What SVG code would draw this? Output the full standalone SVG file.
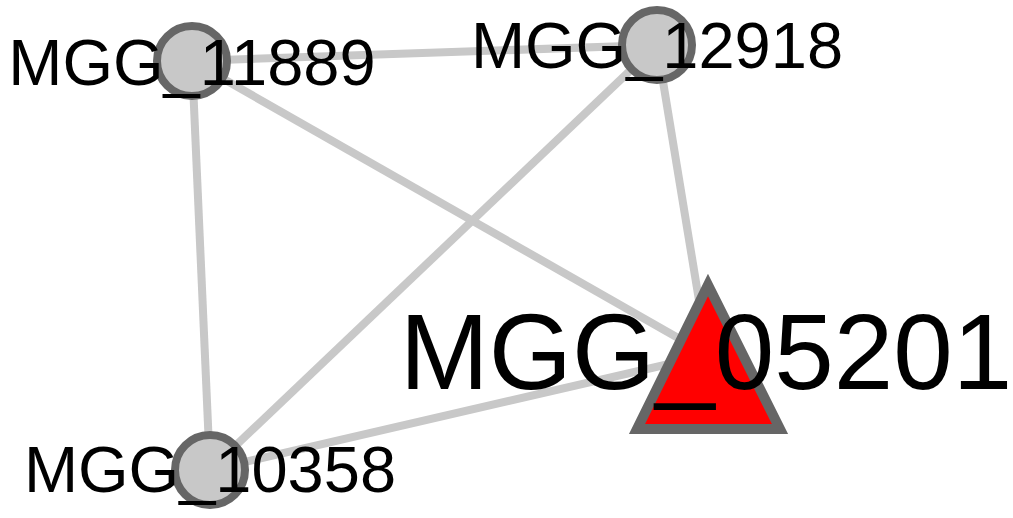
<svg xmlns="http://www.w3.org/2000/svg" width="1013" height="518" viewBox="0 0 1013 518">
<style>
.edge{stroke:#c8c8c8;stroke-width:8;fill:none}
.circ{fill:#c8c8c8;stroke:#666666;stroke-width:8}
.tri{fill:#ff0000;stroke:#666666;stroke-width:10;stroke-linejoin:miter}
.lbl{font-family:"Liberation Sans",Arial,sans-serif;font-size:65px;fill:#000;text-anchor:middle}
.big{font-size:107px}
</style>
<rect width="1013" height="518" fill="#ffffff"/>
<g id="edges">
<line class="edge" x1="192" y1="61" x2="657" y2="45"/>
<line class="edge" x1="192" y1="61" x2="210" y2="470"/>
<line class="edge" x1="192" y1="61" x2="708" y2="355"/>
<line class="edge" x1="657" y1="45" x2="210" y2="470"/>
<line class="edge" x1="657" y1="45" x2="708" y2="355"/>
<line class="edge" x1="210" y1="470" x2="708" y2="355"/>
</g>
<g id="node-MGG_11889">
<circle class="circ" cx="192" cy="61" r="35"/>
<text class="lbl" x="192" y="85">MGG_11889</text>
</g>
<g id="node-MGG_12918">
<circle class="circ" cx="657" cy="45" r="35"/>
<text class="lbl" x="657" y="68">MGG_12918</text>
</g>
<g id="node-MGG_10358">
<circle class="circ" cx="210" cy="470" r="35"/>
<text class="lbl" x="210" y="492">MGG_10358</text>
</g>
<g id="node-MGG_05201">
<polygon class="tri" points="708,285 637,429 780,429"/>
<text class="lbl big" x="706" y="389">MGG_05201</text>
</g>
</svg>
